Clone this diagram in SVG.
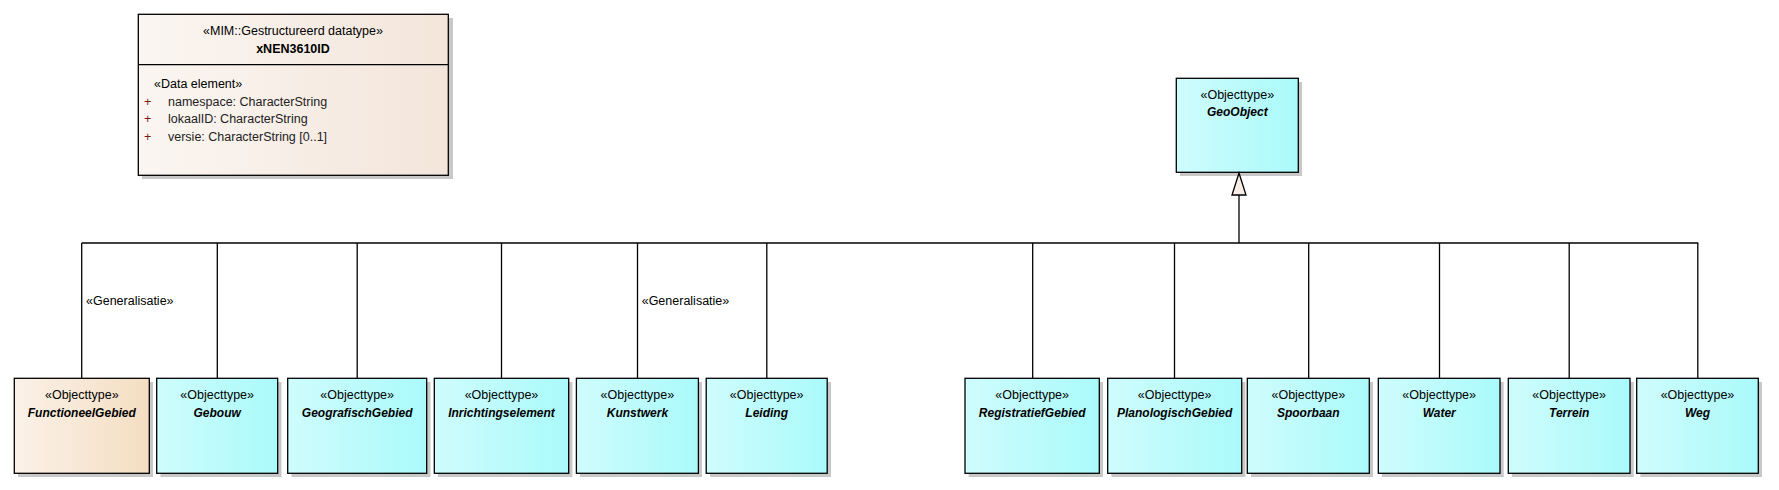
<svg xmlns="http://www.w3.org/2000/svg" width="1779" height="490" viewBox="0 0 1779 490">
<defs>
<linearGradient id="gCyan" x1="0" y1="0" x2="1" y2="0"><stop offset="0" stop-color="#cffcfc"/><stop offset="1" stop-color="#aafafb"/></linearGradient>
<linearGradient id="gBeige" x1="0" y1="0" x2="1" y2="0"><stop offset="0" stop-color="#fbf1e8"/><stop offset="1" stop-color="#f4dec2"/></linearGradient>
<linearGradient id="gData" x1="0" y1="0" x2="1" y2="0"><stop offset="0" stop-color="#fbf6f2"/><stop offset="1" stop-color="#f3e5da"/></linearGradient>
<style>
.sh{fill:#c8c8c8}
.box{stroke:#000;stroke-width:1.3}
.cy{fill:url(#gCyan)}
.be{fill:url(#gBeige)}
text{font-family:"Liberation Sans",Arial,sans-serif;font-size:12.5px;fill:#000}
.c{text-anchor:middle}
.n{font-weight:bold;font-style:italic;font-size:12px}
.b{font-weight:bold;font-size:12.5px}
.pl{fill:#7a1a1a}
.at{fill:#222}
.ln{stroke:#000;stroke-width:1.3;fill:none}
</style>
</defs>
<rect width="1779" height="490" fill="#fff"/>

<g id="xNEN3610ID">
<rect class="sh" x="142" y="18" width="311" height="161"/>
<rect class="box" fill="url(#gData)" x="138.3" y="14.3" width="310" height="161"/>
<line class="ln" x1="138.3" y1="64.7" x2="448.3" y2="64.7"/>
<text class="c" x="293" y="35">«MIM::Gestructureerd datatype»</text>
<text class="c b" x="293" y="53">xNEN3610ID</text>
<text x="154" y="88">«Data element»</text>
<text class="pl" x="144" y="105.5">+</text>
<text class="at" x="168" y="105.5">namespace: CharacterString</text>
<text class="pl" x="144" y="123">+</text>
<text class="at" x="168" y="123">lokaalID: CharacterString</text>
<text class="pl" x="144" y="140.5">+</text>
<text class="at" x="168" y="140.5">versie: CharacterString [0..1]</text>
</g>

<g id="GeoObject">
<rect class="sh" x="1180" y="82" width="122" height="94"/>
<rect class="box cy" x="1176.3" y="78.3" width="122" height="94"/>
<text class="c" x="1237.3" y="98.5">«Objecttype»</text>
<text class="c n" x="1237.3" y="116">GeoObject</text>
</g>

<g id="connectors">
<polyline class="ln" points="1239,195 1239,243"/>
<polygon points="1239,173 1232,195 1246,195" fill="#f9ede8" stroke="#000" stroke-width="1.3"/>
<line class="ln" x1="81.7" y1="243" x2="1698.3" y2="243"/>
<line class="ln" x1="81.7" y1="243" x2="81.7" y2="378.3"/>
<line class="ln" x1="217.3" y1="243" x2="217.3" y2="378.3"/>
<line class="ln" x1="357.2" y1="243" x2="357.2" y2="378.3"/>
<line class="ln" x1="501.5" y1="243" x2="501.5" y2="378.3"/>
<line class="ln" x1="637.5" y1="243" x2="637.5" y2="378.3"/>
<line class="ln" x1="766.8" y1="243" x2="766.8" y2="378.3"/>
<line class="ln" x1="1032.7" y1="243" x2="1032.7" y2="378.3"/>
<line class="ln" x1="1174.5" y1="243" x2="1174.5" y2="378.3"/>
<line class="ln" x1="1308.7" y1="243" x2="1308.7" y2="378.3"/>
<line class="ln" x1="1439.5" y1="243" x2="1439.5" y2="378.3"/>
<line class="ln" x1="1569.2" y1="243" x2="1569.2" y2="378.3"/>
<line class="ln" x1="1697.8" y1="243" x2="1697.8" y2="378.3"/>
<text x="86" y="305">«Generalisatie»</text>
<text x="641.7" y="305">«Generalisatie»</text>
</g>

<g id="FunctioneelGebied">
<rect class="sh" x="18" y="382" width="135" height="95"/>
<rect class="box be" x="14.3" y="378.3" width="135" height="95"/>
<text class="c" x="81.8" y="398.5">«Objecttype»</text>
<text class="c n" x="81.8" y="416.5">FunctioneelGebied</text>
</g>
<g id="Gebouw">
<rect class="sh" x="160.5" y="382" width="121" height="95"/>
<rect class="box cy" x="156.7" y="378.3" width="121" height="95"/>
<text class="c" x="217.2" y="398.5">«Objecttype»</text>
<text class="c n" x="217.2" y="416.5">Gebouw</text>
</g>
<g id="GeografischGebied">
<rect class="sh" x="291.5" y="382" width="139" height="95"/>
<rect class="box cy" x="287.7" y="378.3" width="139" height="95"/>
<text class="c" x="357.2" y="398.5">«Objecttype»</text>
<text class="c n" x="357.2" y="416.5">GeografischGebied</text>
</g>
<g id="Inrichtingselement">
<rect class="sh" x="438" y="382" width="134.4" height="95"/>
<rect class="box cy" x="434.3" y="378.3" width="134.4" height="95"/>
<text class="c" x="501.5" y="398.5">«Objecttype»</text>
<text class="c n" x="501.5" y="416.5">Inrichtingselement</text>
</g>
<g id="Kunstwerk">
<rect class="sh" x="580" y="382" width="122" height="95"/>
<rect class="box cy" x="576.4" y="378.3" width="122" height="95"/>
<text class="c" x="637.4" y="398.5">«Objecttype»</text>
<text class="c n" x="637.4" y="416.5">Kunstwerk</text>
</g>
<g id="Leiding">
<rect class="sh" x="710" y="382" width="121" height="95"/>
<rect class="box cy" x="706.2" y="378.3" width="121" height="95"/>
<text class="c" x="766.7" y="398.5">«Objecttype»</text>
<text class="c n" x="766.7" y="416.5">Leiding</text>
</g>
<g id="RegistratiefGebied">
<rect class="sh" x="968.7" y="382" width="134.3" height="95"/>
<rect class="box cy" x="965" y="378.3" width="134.3" height="95"/>
<text class="c" x="1032.2" y="398.5">«Objecttype»</text>
<text class="c n" x="1032.2" y="416.5">RegistratiefGebied</text>
</g>
<g id="PlanologischGebied">
<rect class="sh" x="1111.4" y="382" width="134" height="95"/>
<rect class="box cy" x="1107.7" y="378.3" width="134" height="95"/>
<text class="c" x="1174.7" y="398.5">«Objecttype»</text>
<text class="c n" x="1174.7" y="416.5">PlanologischGebied</text>
</g>
<g id="Spoorbaan">
<rect class="sh" x="1251" y="382" width="122" height="95"/>
<rect class="box cy" x="1247.3" y="378.3" width="122" height="95"/>
<text class="c" x="1308.3" y="398.5">«Objecttype»</text>
<text class="c n" x="1308.3" y="416.5">Spoorbaan</text>
</g>
<g id="Water">
<rect class="sh" x="1382" y="382" width="121.7" height="95"/>
<rect class="box cy" x="1378.3" y="378.3" width="121.7" height="95"/>
<text class="c" x="1439.2" y="398.5">«Objecttype»</text>
<text class="c n" x="1439.2" y="416.5">Water</text>
</g>
<g id="Terrein">
<rect class="sh" x="1512" y="382" width="121.7" height="95"/>
<rect class="box cy" x="1508.3" y="378.3" width="121.7" height="95"/>
<text class="c" x="1569.2" y="398.5">«Objecttype»</text>
<text class="c n" x="1569.2" y="416.5">Terrein</text>
</g>
<g id="Weg">
<rect class="sh" x="1640.4" y="382" width="121.6" height="95"/>
<rect class="box cy" x="1636.7" y="378.3" width="121.6" height="95"/>
<text class="c" x="1697.5" y="398.5">«Objecttype»</text>
<text class="c n" x="1697.5" y="416.5">Weg</text>
</g>
</svg>
